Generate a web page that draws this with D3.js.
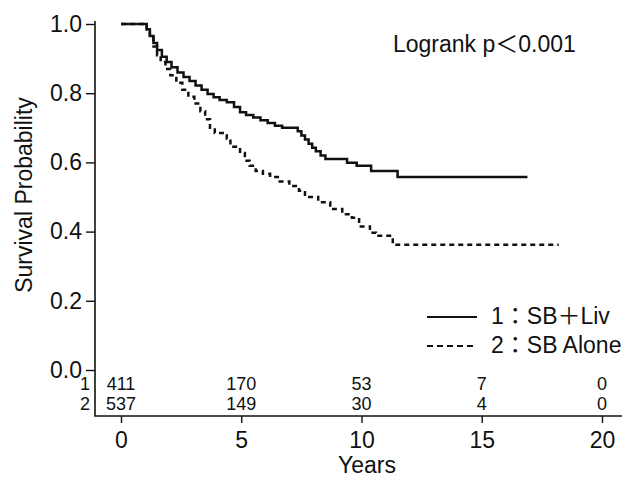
<!DOCTYPE html>
<html>
<head>
<meta charset="utf-8">
<script src="https://cdn.jsdelivr.net/npm/d3@7"></script>
<style>
  html, body { margin: 0; padding: 0; background: #fff; }
  svg { display: block; }
  text { font-family: "Liberation Sans", Arial, Helvetica, "Noto Sans CJK JP", sans-serif; fill: #111; }
</style>
</head>
<body>
<svg id="chart" width="627" height="478"></svg>
<script>
// ---- data ----
const xTickValues = [0, 5, 10, 15, 20];
const yTickValues = [0.0, 0.2, 0.4, 0.6, 0.8, 1.0];

const seriesNames = ["1：SB＋Liv", "2：SB Alone"];

const timeGroup1 = [0, 1.07, 1.2, 1.35, 1.5, 1.7, 1.9, 2.1, 2.35, 2.6, 2.85, 3.1, 3.35, 3.6, 3.85, 4.1, 4.4, 4.7, 4.95, 5.2, 5.5, 5.8, 6.1, 6.4, 6.7, 7.35, 7.5, 7.65, 7.8, 7.95, 8.1, 8.3, 8.5, 9.4, 9.8, 10.4, 11.5, 16.9];
const survGroup1 = [1.0, 0.985, 0.965, 0.945, 0.925, 0.905, 0.89, 0.875, 0.86, 0.847, 0.835, 0.822, 0.81, 0.798, 0.788, 0.78, 0.774, 0.76, 0.745, 0.737, 0.73, 0.722, 0.714, 0.706, 0.70, 0.69, 0.678, 0.666, 0.654, 0.642, 0.632, 0.62, 0.61, 0.599, 0.59, 0.575, 0.558, 0.558];

const timeGroup2 = [0, 1.07, 1.2, 1.35, 1.5, 1.65, 1.85, 2.05, 2.3, 2.55, 2.8, 3.05, 3.3, 3.5, 3.7, 3.9, 4.4, 4.55, 4.95, 5.15, 5.35, 5.6, 5.9, 6.2, 6.6, 7.0, 7.4, 7.65, 8.2, 8.7, 9.2, 9.6, 9.9, 10.35, 10.6, 11.3, 18.2];
const survGroup2 = [1.0, 0.985, 0.96, 0.935, 0.91, 0.89, 0.87, 0.852, 0.83, 0.81, 0.79, 0.77, 0.748, 0.725, 0.70, 0.685, 0.668, 0.645, 0.627, 0.605, 0.59, 0.575, 0.567, 0.558, 0.545, 0.532, 0.518, 0.50, 0.485, 0.465, 0.45, 0.44, 0.415, 0.397, 0.388, 0.362, 0.362];

const riskRowLabels = ["1", "2"];
const riskTimes = [0, 5, 10, 15, 20];
const riskGroup1 = [411, 170, 53, 7, 0];
const riskGroup2 = [537, 149, 30, 4, 0];

// ---- drawing ----
const svg = d3.select("#chart");
const x = d3.scaleLinear().domain([0, 20]).range([121, 602]);
const y = d3.scaleLinear().domain([0, 1]).range([370, 24]);

const axisX0 = 95, axisY0 = 416;
const ink = "#111";
const fs = 23;

// axis lines (L shape)
svg.append("path")
  .attr("d", `M${axisX0},21 V${axisY0} H622`)
  .attr("fill", "none").attr("stroke", ink).attr("stroke-width", 1.6);

// y axis ticks
const gy = svg.append("g").attr("transform", `translate(${axisX0},0)`)
  .call(d3.axisLeft(y).tickValues(yTickValues).tickFormat(d3.format(".1f")).tickSize(9).tickPadding(4));
gy.select(".domain").remove();
gy.selectAll("line").attr("stroke", ink).attr("stroke-width", 1.4);
gy.selectAll("text").attr("font-size", fs).attr("fill", ink)
  .style("font-family", '"Liberation Sans", Arial, sans-serif');

// x axis ticks
const gx = svg.append("g").attr("transform", `translate(0,${axisY0})`)
  .call(d3.axisBottom(x).tickValues(xTickValues).tickFormat(d3.format("d")).tickSize(7).tickPadding(9));
gx.select(".domain").remove();
gx.selectAll("line").attr("stroke", ink).attr("stroke-width", 1.4);
gx.selectAll("text").attr("font-size", fs).attr("fill", ink)
  .style("font-family", '"Liberation Sans", Arial, sans-serif');

// axis titles
svg.append("text").attr("x", 367).attr("y", 473).attr("text-anchor", "middle")
  .attr("font-size", fs).text("Years");
svg.append("text").attr("transform", "translate(32,195) rotate(-90)")
  .attr("text-anchor", "middle").attr("font-size", fs).text("Survival Probability");

// curves
const line = d3.line().x(d => x(d[0])).y(d => y(d[1])).curve(d3.curveStepAfter);
const pts1 = timeGroup1.map((t, i) => [t, survGroup1[i]]);
const pts2 = timeGroup2.map((t, i) => [t, survGroup2[i]]);

svg.append("path").datum(pts2).attr("d", line)
  .attr("fill", "none").attr("stroke", ink).attr("stroke-width", 2.5)
  .attr("stroke-dasharray", "5,4");
svg.append("path").datum(pts1).attr("d", line)
  .attr("fill", "none").attr("stroke", ink).attr("stroke-width", 2.5);

// logrank annotation
svg.append("text").attr("x", 393).attr("y", 52).attr("font-size", fs).text("Logrank p＜0.001");

// legend
const legY = [317, 346];
const legDash = [null, "6,4"];
legY.forEach((ly, i) => {
  svg.append("line").attr("x1", 427).attr("x2", 477).attr("y1", ly).attr("y2", ly)
    .attr("stroke", ink).attr("stroke-width", 2).attr("stroke-dasharray", legDash[i]);
  svg.append("text").attr("x", 491).attr("y", ly + 7).attr("font-size", fs).text(seriesNames[i]);
});

// number at risk table
const riskRows = [riskGroup1, riskGroup2];
const riskY = [390, 410];
riskRows.forEach((row, r) => {
  svg.append("text").attr("x", 90).attr("y", riskY[r]).attr("text-anchor", "end")
    .attr("font-size", 18).text(riskRowLabels[r]);
  svg.selectAll(null).data(row).enter().append("text")
    .attr("x", (d, i) => x(riskTimes[i])).attr("y", riskY[r])
    .attr("text-anchor", "middle").attr("font-size", 18).text(d => d);
});
</script>
</body>
</html>
